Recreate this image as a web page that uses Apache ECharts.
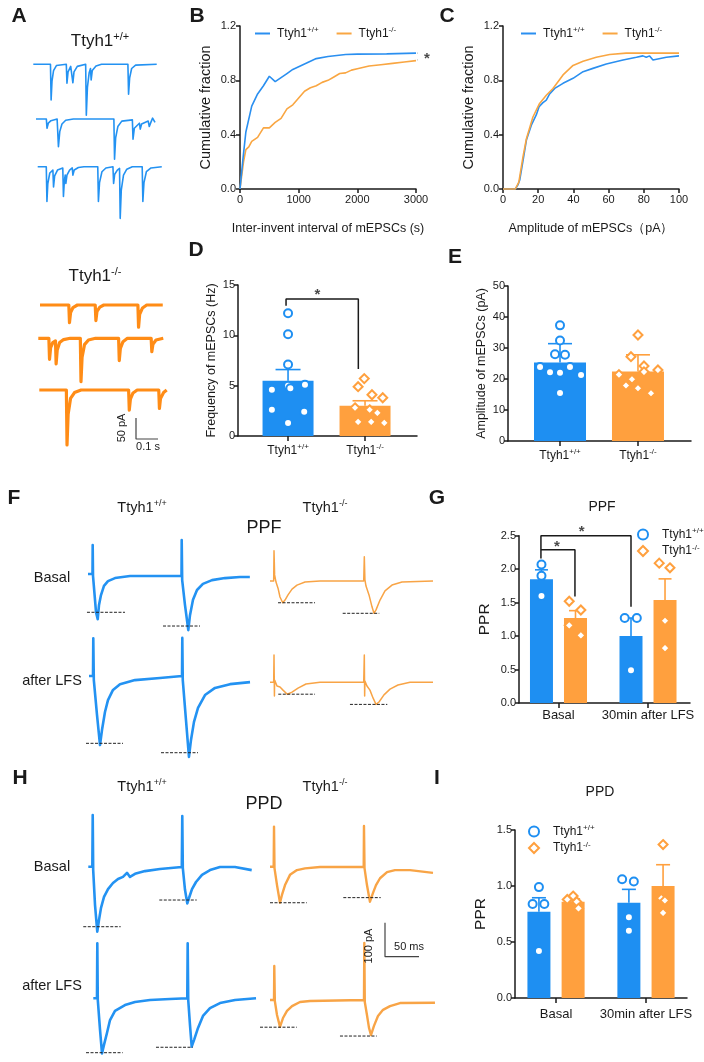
<!DOCTYPE html>
<html><head><meta charset="utf-8">
<style>html,body{margin:0;padding:0;background:#fff}#c{width:704px;height:1062px}</style>
<script src="https://cdn.jsdelivr.net/npm/echarts@6.0.0/dist/echarts.min.js"></script>
</head><body><div id="c"></div><script>
// ================= DATA =================
// Panel B: cumulative fraction of inter-event interval
const bXTicks = [0, 1000, 2000, 3000];
const bWT = [[0,0],[50,0.22],[100,0.42],[200,0.61],[300,0.70],[400,0.76],[500,0.83],[600,0.79],[700,0.82],[800,0.85],[900,0.88],[1000,0.90],[1100,0.92],[1200,0.94],[1300,0.96],[1500,0.975],[1800,0.99],[2000,0.993],[2500,0.995],[3000,1.0]];
const bKO = [[0,0],[60,0.2],[100,0.29],[150,0.31],[200,0.35],[300,0.38],[400,0.45],[500,0.45],[600,0.49],[700,0.52],[800,0.59],[900,0.62],[1000,0.67],[1100,0.72],[1200,0.745],[1300,0.76],[1400,0.785],[1500,0.80],[1600,0.825],[1700,0.85],[1800,0.855],[1900,0.875],[2000,0.885],[2200,0.905],[2400,0.915],[2600,0.925],[2800,0.935],[3000,0.945]];
// Panel C: cumulative fraction of amplitude
const cWT = [[0,0],[7,0],[8.5,0.03],[9.5,0.066],[11.4,0.21],[13.3,0.36],[16.1,0.47],[18.9,0.545],[20.5,0.606],[22.7,0.636],[24.6,0.655],[26.5,0.70],[29.4,0.741],[34.1,0.778],[39.8,0.815],[45.5,0.864],[51.1,0.888],[58.7,0.92],[68.2,0.95],[75.8,0.97],[79.5,0.98],[81.4,0.97],[83.3,0.98],[85.2,0.95],[92.8,0.97],[100,0.98]];
const cKO = [[0,0],[7,0],[9,0.05],[11.4,0.24],[13.3,0.37],[17,0.53],[20.8,0.63],[24.6,0.69],[28.4,0.74],[34.1,0.84],[39.8,0.91],[45.5,0.94],[53,0.97],[60.6,0.99],[70,1.0],[100,1.0]];
// Panel D: frequency (Hz)
const genotypes = ['+/+', '-/-'];
const dMean = [5.5, 3.0];
const dSem = [1.1, 0.5];
const dPtsWT = [12.2, 10.1, 7.1, 5.1, 5.0, 4.75, 4.6, 2.6, 2.4, 1.3];
const dJitWT = [0, 0, 0, 0.22, 0, 0.03, -0.21, -0.21, 0.21, 0];
const dPtsKO = [5.7, 4.9, 4.1, 3.8, 2.8, 2.6, 2.3, 1.4, 1.4, 1.3];
const dJitKO = [-0.01, -0.09, 0.09, 0.23, -0.13, 0.06, 0.16, -0.09, 0.08, 0.25];
// Panel E: amplitude (pA)
const eMean = [25.3, 22.4];
const eSem = [6.1, 5.4];
const ePtsWT = [37.3, 32.4, 28.0, 27.8, 23.9, 23.9, 22.2, 22.0, 21.3, 15.5];
const eJitWT = [0, 0, -0.064, 0.064, -0.256, 0.128, -0.128, 0, 0.27, 0];
const ePtsKO = [34.2, 27.2, 24.2, 22.9, 22.3, 21.4, 19.9, 17.9, 17.0, 15.4];
const eJitKO = [0, -0.09, 0.077, 0.256, 0.077, -0.244, -0.077, -0.154, 0, 0.167];
// Panel G: PPF paired-pulse ratio
const conditions = ['Basal', '30min after LFS'];
const gMeanWT = [1.85, 1.0];
const gSemWT = [0.14, 0.27];
const gMeanKO = [1.27, 1.54];
const gSemKO = [0.11, 0.315];
const gPtsWT = [[2.07, 1.9, 1.6], [1.27, 1.27, 0.49]];
const gJitWT = [[0, 0, 0], [-0.07, 0.065, 0]];
const gPtsKO = [[1.52, 1.39, 1.16, 1.01], [2.09, 2.02, 1.23, 0.82]];
const gJitKO = [[-0.07, 0.06, -0.07, 0.06], [-0.065, 0.055, 0, 0]];
// Panel I: PPD paired-pulse ratio
const iMeanWT = [0.77, 0.85];
const iSemWT = [0.125, 0.12];
const iMeanKO = [0.86, 1.0];
const iSemKO = [0.025, 0.19];
const iPtsWT = [[0.99, 0.84, 0.84, 0.42], [1.06, 1.04, 0.72, 0.60]];
const iJitWT = [[0, -0.07, 0.06, 0], [-0.075, 0.055, 0, 0]];
const iPtsKO = [[0.91, 0.88, 0.86, 0.80], [1.37, 0.89, 0.87, 0.76]];
const iJitKO = [[0, -0.065, 0.04, 0.06], [0, -0.02, 0.02, 0]];

// Panel A traces: [time ms, current pA relative to baseline]
const aWT1 = [[0,0],[78,0],[81,-85],[85,-40],[92,-15],[105,-3],[150,0],[153,-45],[158,-18],[170,-5],[177,-2],[180,-44],[185,-18],[200,-5],[238,0],[241,-121],[246,-55],[254,-20],[260,-10],[263,-37],[268,-15],[285,-4],[310,0],[430,0],[433,-71],[438,-32],[447,-10],[465,-2],[561,0]];
const aWT2 = [[0,0],[47,0],[50,-22],[56,-10],[68,-4],[96,0],[102,-66],[108,-30],[118,-12],[135,-3],[170,0],[354,0],[357,-96],[362,-45],[372,-18],[390,-5],[438,-2],[441,-48],[447,-22],[470,-10],[474,-24],[480,-12],[510,-5],[515,-18],[522,-8],[530,2],[541,-8]];
const aWT3 = [[0,0],[39,0],[42,-83],[46,-40],[55,-15],[69,-8],[72,-48],[77,-22],[90,-8],[114,-3],[117,-71],[121,-35],[125,-20],[128,-40],[133,-20],[145,-8],[157,-3],[160,-20],[166,-8],[185,-2],[210,0],[273,0],[276,-83],[281,-38],[292,-12],[310,-3],[342,0],[345,-40],[350,-18],[362,-8],[372,-4],[375,-123],[380,-55],[390,-20],[405,-6],[430,0],[475,0],[478,-83],[483,-38],[494,-12],[515,-3],[564,0]];
const aKO1 = [[0,0],[131,0],[134,-42],[139,-18],[150,-6],[170,0],[251,0],[254,-37],[259,-15],[272,-5],[290,0],[445,0],[448,-53],[453,-22],[466,-7],[485,0],[558,0]];
const aKO2 = [[0,0],[48,0],[51,-50],[56,-22],[66,-10],[78,-6],[81,-61],[86,-28],[97,-10],[115,-3],[145,0],[191,0],[194,-103],[199,-45],[210,-15],[228,-4],[260,0],[365,0],[368,-53],[373,-24],[385,-8],[405,0],[513,0],[516,-32],[521,-14],[535,-4],[568,0]];
const aKO3 = [[0,0],[123,0],[126,-131],[131,-58],[142,-20],[160,-6],[190,0],[406,0],[409,-48],[414,-22],[426,-7],[445,0],[543,0],[546,-44],[551,-20],[565,-6],[579,0]];
const aScale = [[0,50],[0,0],[100,0]];           // 50 pA, 0.1 s

// Panel F traces (PPF)
const fWTBasal = [[0,0],[6.6,0],[6.9,85],[7.4,-6],[11.8,-112],[14.3,-133],[16.2,-91],[19.1,-62],[23.5,-35],[29.4,-21],[39.7,-12],[61.8,-6],[91.2,-6],[120.6,-6],[137.5,-6],[137.8,100],[138.5,-18],[142.6,-91],[147.5,-165],[150,-121],[154.4,-76],[160.3,-47],[169,-29],[182.4,-18],[201.5,-12],[223.5,-9],[238,-9]];
const fWTLfs = [[0,0],[5.9,0],[6.3,111],[7.1,-12],[11.8,-115],[16.2,-203],[19.1,-159],[23.5,-106],[27.9,-71],[35.3,-41],[45.6,-24],[67.6,-12],[104.4,-6],[136.8,0],[137.2,112],[137.9,-12],[142.6,-129],[147,-238],[150,-188],[154.4,-135],[160.3,-94],[170.6,-56],[185.3,-35],[207.4,-24],[236.8,-18]];
const fKOBasal = [[0,0],[5.4,0],[5.9,89],[6.8,18],[8.8,-3],[11.8,-21],[14.7,-47],[18.7,-64],[22.1,-56],[26.5,-41],[32.4,-24],[39.7,-12],[51.5,-3],[73.5,0],[137.8,0],[138.7,71],[139.6,3],[141.2,-15],[145.6,-41],[150,-76],[152.9,-95],[155.9,-85],[161.8,-56],[169.1,-29],[179.4,-12],[194.1,-3],[239.7,0]];
const fKOLfs = [[0,0],[5.4,0],[5.9,80],[6.5,-40],[6.8,7],[10.3,-11],[14.7,-14],[19.1,-23],[25.4,-35],[32.4,-29],[41.2,-17],[52.9,-5],[73.5,0],[137.8,0],[138.7,80],[139.2,-40],[139.6,4],[142.6,-11],[147,-23],[151.5,-46],[155.9,-65],[160.3,-58],[167.6,-37],[176.5,-20],[188.2,-8],[205.9,0],[239.7,0]];
// peak reference levels [t0, t1, pA]
const fWTBasalPeaks = [[-1.5,54.4,-112.6],[110.3,164.7,-153]];
const fWTLfsPeaks = [[-4.4,50,-198],[105.9,160.3,-225.6]];
const fKOBasalPeaks = [[11.8,66.2,-64],[106.9,160.7,-95]];
const fKOLfsPeaks = [[12.2,66.2,-35],[117.6,172.5,-65]];

// Panel H traces (PPD)
const hWTBasal = [[0,0],[5.9,0],[6.5,152],[7.2,-10],[9.9,-113],[13.2,-191],[15.7,-157],[18.7,-121],[23.1,-89],[29,-66],[36.3,-48],[43.7,-36],[51,-30],[56.9,-18],[61.3,-30],[68.7,-21],[83.4,-13],[105.4,-7],[137.5,-1],[138.2,149],[139,-4],[142.2,-68],[145.6,-108],[148.1,-92],[152.5,-66],[158.4,-45],[167.2,-24],[179,-10],[193.7,-1],[215.7,-1],[240.3,-10]];
const hWTLfs = [[0,0],[5.4,0],[5.9,162],[6.6,-5],[9.9,-93],[12.8,-162],[15.7,-137],[20.1,-102],[24.6,-64],[31.9,-37],[46.6,-20],[61.3,-11],[83.4,-5],[112.8,-2],[138.2,0],[138.8,162],[139.6,-5],[142.2,-79],[144.7,-142],[148.1,-123],[154,-87],[161.3,-52],[171.6,-29],[186.3,-14],[208.4,-5],[239.3,0]];
const hKOBasal = [[0,0],[5.4,0],[5.9,118],[6.6,-4],[10.3,-54],[14.7,-106],[17.6,-83],[22.1,-54],[29.4,-24],[39.7,-10],[51.5,-5],[73.5,-1],[137.8,-1],[138.2,120],[139,-4],[142.6,-54],[147,-103],[151.5,-77],[155.9,-54],[161.8,-34],[172.1,-16],[183.8,-10],[205.9,-10],[239.7,-18]];
const hKOLfs = [[0,0],[5.9,0],[6.3,100],[7.1,-3],[10.3,-44],[14.7,-79],[19.1,-53],[25,-32],[32.4,-18],[44.1,-6],[58.8,-3],[138.2,0],[138.7,168],[139.4,-6],[142.6,-44],[145.6,-82],[148.5,-103],[152.9,-76],[158.8,-47],[166.2,-29],[176.5,-18],[191.2,-9],[242.6,-8]];
const hWTBasalPeaks = [[-7.4,47.6,-176.5],[104.4,159.4,-98]];
const hWTLfsPeaks = [[-10.7,43.2,-160],[92.2,146.2,-144]];
const hKOBasalPeaks = [[0,54,-106],[107.8,162.8,-91]];
const hKOLfsPeaks = [[-14.7,39.3,-80],[102.9,156.9,-106]];
const hScale = [[0,100],[0,0],[50,0]];           // 100 pA, 50 ms

// ================= STYLE / LAYOUT =================
const BLUE = '#1e8ff2', ORANGE = '#ffa03e';
const TR_BLUE = '#2392f2', TR_OR_A = '#ff8c16', TR_OR = '#f8a446';
const LN_BLUE = '#2a8ff0', LN_OR = '#f9a642';
const INK = '#1a1a1a';
const FONT = '"Liberation Sans", Arial, Helvetica, sans-serif';
const PAL = [BLUE, ORANGE];
const DIAMOND = 'path://M0,-10L10,0L0,10L-10,0Z';
const SUP = { a: { fontSize: 12, fontFamily: FONT, color: INK, lineHeight: 15 }, s: { fontSize: 8, fontFamily: FONT, color: INK, verticalAlign: 'top', lineHeight: 9 } };
const supText = g => '{a|Ttyh1}{s|' + g + '}';

const grids = [], xAxes = [], yAxes = [], series = [];
function addGrid(rect, xa, ya) {
  grids.push(Object.assign({ outerBoundsMode: 'none', containLabel: false }, rect));
  const gi = grids.length - 1;
  xAxes.push(Object.assign({ gridIndex: gi }, xa));
  yAxes.push(Object.assign({ gridIndex: gi }, ya));
  return gi;
}
function axisLine() { return { show: true, onZero: false, lineStyle: { color: INK, width: 1.5 } }; }
function axisTick(len) { return { show: true, length: len, lineStyle: { color: INK, width: 1.5 } }; }

// ----- trace grids -----
const SA = { px: 0.22, py: 0.42, xmin: -10, xmax: 600, ymin: -160, ymax: 60 };
const SF = { px: 0.68, py: 0.34, xmin: -25, xmax: 265, ymin: -300, ymax: 220 };
function traceGrid(x0, y0, S) {
  return addGrid({ left: x0 + S.xmin * S.px, top: y0 - S.ymax * S.py, width: (S.xmax - S.xmin) * S.px, height: (S.ymax - S.ymin) * S.py },
    { type: 'value', min: S.xmin, max: S.xmax, show: false },
    { type: 'value', min: S.ymin, max: S.ymax, show: false });
}
function traceSeries(gi, data, color, width) {
  series.push({ type: 'line', xAxisIndex: gi, yAxisIndex: gi, data, symbol: 'none', showSymbol: false, clip: false, silent: true,
    lineStyle: { color, width, join: 'round' }, z: 2 });
}
function peakSeries(gi, peaks) {
  peaks.forEach(p => series.push({ type: 'line', xAxisIndex: gi, yAxisIndex: gi, data: [[p[0], p[2]], [p[1], p[2]]], symbol: 'none', clip: false, silent: true,
    lineStyle: { color: '#222', width: 1, type: [3, 1.5] }, z: 3 }));
}
const traceLayout = [
  [aWT1, 33.3, 64.3, SA, TR_BLUE, 1.6], [aWT2, 36, 119, SA, TR_BLUE, 1.6], [aWT3, 37.7, 166.7, SA, TR_BLUE, 1.6],
  [aKO1, 40, 305, SA, TR_OR_A, 3.2], [aKO2, 38.3, 338.3, SA, TR_OR_A, 3.2], [aKO3, 39.3, 390, SA, TR_OR_A, 3.2],
  [fWTBasal, 88, 574, SF, TR_BLUE, 2.6, fWTBasalPeaks], [fWTLfs, 89, 676, SF, TR_BLUE, 2.6, fWTLfsPeaks],
  [fKOBasal, 270, 581, SF, TR_OR, 1.5, fKOBasalPeaks], [fKOLfs, 270, 682.3, SF, TR_OR, 1.5, fKOLfsPeaks],
  [hWTBasal, 88.3, 866.7, SF, TR_BLUE, 2.6, hWTBasalPeaks], [hWTLfs, 93.3, 998.3, SF, TR_BLUE, 2.6, hWTLfsPeaks],
  [hKOBasal, 270, 866.7, SF, TR_OR, 2.4, hKOBasalPeaks], [hKOLfs, 270, 1000, SF, TR_OR, 2.4, hKOLfsPeaks]
];
traceLayout.forEach(t => {
  const gi = traceGrid(t[1], t[2], t[3]);
  traceSeries(gi, t[0], t[4], t[5]);
  if (t[6]) peakSeries(gi, t[6]);
});
// scale bars
[[aScale, 136, 439, SA], [hScale, 385, 956.7, SF]].forEach(s => {
  const gi = traceGrid(s[1], s[2], s[3]);
  series.push({ type: 'line', xAxisIndex: gi, yAxisIndex: gi, data: s[0], symbol: 'none', clip: false, silent: true, lineStyle: { color: '#444', width: 1.2 } });
});

// ----- B & C cumulative plots -----
function cumGrid(rect, xmin, xmax, xint, name) {
  return addGrid(rect,
    { type: 'value', min: xmin, max: xmax, interval: xint, axisLine: axisLine(), axisTick: axisTick(4), splitLine: { show: false },
      axisLabel: { fontSize: 11, color: INK, fontFamily: FONT, margin: 5, formatter: v => String(v) },
      name, nameLocation: 'middle', nameGap: 33, nameTextStyle: { fontSize: 12.5, color: INK, fontFamily: FONT } },
    { type: 'value', min: 0, max: 1.2, interval: 0.4, axisLine: axisLine(), axisTick: axisTick(4), splitLine: { show: false },
      axisLabel: { fontSize: 11, color: INK, fontFamily: FONT, margin: 4, formatter: v => v.toFixed(1) },
      name: 'Cumulative fraction', nameLocation: 'middle', nameGap: 27, nameRotate: 90, nameTextStyle: { fontSize: 14.5, color: INK, fontFamily: FONT } });
}
const gB = cumGrid({ left: 240, top: 26, width: 176, height: 163 }, 0, 3000, 1000, 'Inter-invent interval of mEPSCs (s)');
const gC = cumGrid({ left: 503, top: 26, width: 176, height: 163 }, 0, 100, 20, 'Amplitude of mEPSCs\uFF08pA\uFF09');
function cumLine(gi, name, data, color) {
  series.push({ type: 'line', name, xAxisIndex: gi, yAxisIndex: gi, data, symbol: 'none', showSymbol: false, clip: false, lineStyle: { color, width: 1.6 }, itemStyle: { color }, z: 3 });
}
cumLine(gB, 'bKO', bKO, LN_OR); cumLine(gB, 'bWT', bWT, LN_BLUE);
cumLine(gC, 'cWT', cWT, LN_BLUE); cumLine(gC, 'cKO', cKO, LN_OR);
// significance bracket in B
series.push({ type: 'line', xAxisIndex: gB, yAxisIndex: gB, data: [[3030, 1.0], [3080, 1.0], [3080, 0.95], [3030, 0.95]], symbol: 'none', clip: false, silent: true, lineStyle: { color: INK, width: 1.2 } });
function star(gi, x, y, size) {
  series.push({ type: 'scatter', xAxisIndex: gi, yAxisIndex: gi, data: [[x, y]], symbolSize: 12, clip: false, silent: true, z: 6,
    itemStyle: { color: 'rgba(0,0,0,0)' }, label: { show: true, position: 'inside', formatter: '*', fontSize: size, fontWeight: 'bold', color: INK, fontFamily: FONT } });
}
star(gB, 3185, 0.96, 15);

// ----- bar charts -----
function barGrid(rect, xmin, xmax, ymin, ymax, yint, ticks, labelFn, yname, ynameGap, ynameSize, lblMargin, yfmt, lblSize) {
  return addGrid(rect,
    { type: 'value', min: xmin, max: xmax, axisLine: axisLine(), splitLine: { show: false },
      axisTick: Object.assign(axisTick(5), { customValues: ticks }),
      axisLabel: { customValues: ticks, formatter: labelFn, fontSize: lblSize || 12, color: INK, fontFamily: FONT, margin: lblMargin, rich: SUP } },
    { type: 'value', min: ymin, max: ymax, interval: yint, axisLine: axisLine(), axisTick: axisTick(4), splitLine: { show: false },
      axisLabel: { fontSize: 11, color: INK, fontFamily: FONT, margin: 3, formatter: yfmt },
      name: yname, nameLocation: 'middle', nameRotate: 90, nameGap: ynameGap, nameTextStyle: { fontSize: ynameSize, color: INK, fontFamily: FONT } });
}
function bars(gi, items, width) { // items [x, value, colorIdx]
  series.push({ type: 'bar', xAxisIndex: gi, yAxisIndex: gi, barWidth: width, silent: true, z: 2,
    data: items.map(it => ({ value: [it[0], it[1]], itemStyle: { color: PAL[it[2]] } })) });
}
function errs(gi, items, capHalf) { // items [x, mean, sem, colorIdx]
  series.push({ type: 'custom', xAxisIndex: gi, yAxisIndex: gi, z: 3, silent: true, clip: false, encode: { x: 0, y: 1 }, data: items,
    renderItem: (p, api) => {
      const x = api.value(0), m = api.value(1), s = api.value(2), col = PAL[api.value(3)];
      const a = api.coord([x, m]), b = api.coord([x, m + s]);
      const st = { stroke: col, lineWidth: 1.6 };
      return { type: 'group', children: [
        { type: 'line', shape: { x1: a[0], y1: a[1], x2: b[0], y2: b[1] }, style: st },
        { type: 'line', shape: { x1: b[0] - capHalf, y1: b[1], x2: b[0] + capHalf, y2: b[1] }, style: st }] };
    } });
}
function pts(gi, x, vals, jit, colorIdx, symbol, size, name) {
  series.push({ type: 'scatter', name, xAxisIndex: gi, yAxisIndex: gi, z: 4, symbol, symbolSize: size, clip: false, silent: true,
    itemStyle: { color: '#fff', borderColor: PAL[colorIdx], borderWidth: 2, opacity: 1 },
    data: vals.map((v, i) => [x + jit[i], v]) });
}
function bracket(gi, path) {
  series.push({ type: 'line', xAxisIndex: gi, yAxisIndex: gi, data: path, symbol: 'none', clip: false, silent: true, z: 5, lineStyle: { color: INK, width: 1.5 } });
}
const genoLabel = v => supText(genotypes[Math.round(v) - 1]);
const condLabel = v => conditions[Math.round(v) - 1];

// D
const gD = barGrid({ left: 238, top: 285, width: 179, height: 151 }, 0.35, 2.675, 0, 15, 5, [1, 2], genoLabel, 'Frequency of mEPSCs (Hz)', 20, 12.5, 7);
bars(gD, [[1, dMean[0], 0], [2, dMean[1], 1]], 51);
errs(gD, [[1, dMean[0], dSem[0], 0], [2, dMean[1], dSem[1], 1]], 12.5);
pts(gD, 1, dPtsWT, dJitWT, 0, 'circle', 8);
pts(gD, 2, dPtsKO, dJitKO, 1, DIAMOND, 9);
bracket(gD, [[0.974, 12.94], [0.974, 13.6], [1.913, 13.6], [1.913, 6.65]]);
star(gD, 1.38, 14.0, 15);

// E
const gE = barGrid({ left: 508, top: 286, width: 183, height: 155 }, 0.333, 2.68, 0, 50, 10, [1, 2], genoLabel, 'Amplitude of mEPSCs (pA)', 20, 12.5, 7);
bars(gE, [[1, eMean[0], 0], [2, eMean[1], 1]], 52);
errs(gE, [[1, eMean[0], eSem[0], 0], [2, eMean[1], eSem[1], 1]], 12);
pts(gE, 1, ePtsWT, eJitWT, 0, 'circle', 8);
pts(gE, 2, ePtsKO, eJitKO, 1, DIAMOND, 9);

// G
const OFF = 0.19;
const gG = barGrid({ left: 519, top: 535.7, width: 171, height: 167.3 }, 0.559, 2.469, 0, 2.5, 0.5, [1, 2], condLabel, 'PPR', 26, 15.5, 6, v => v.toFixed(1), 13);
bars(gG, [[1 - OFF, gMeanWT[0], 0], [1 + OFF, gMeanKO[0], 1], [2 - OFF, gMeanWT[1], 0], [2 + OFF, gMeanKO[1], 1]], 23);
errs(gG, [[1 - OFF, gMeanWT[0], gSemWT[0], 0], [1 + OFF, gMeanKO[0], gSemKO[0], 1], [2 - OFF, gMeanWT[1], gSemWT[1], 0], [2 + OFF, gMeanKO[1], gSemKO[1], 1]], 6.5);
[0, 1].forEach(k => {
  pts(gG, k + 1 - OFF, gPtsWT[k], gJitWT[k], 0, 'circle', 8, k === 0 ? 'gWT' : undefined);
  pts(gG, k + 1 + OFF, gPtsKO[k], gJitKO[k], 1, DIAMOND, 9, k === 0 ? 'gKO' : undefined);
});
bracket(gG, [[0.804, 2.16], [0.804, 2.5], [1.81, 2.5], [1.81, 1.44]]);
bracket(gG, [[0.804, 2.29], [1.184, 2.29], [1.184, 1.59]]);
star(gG, 1.26, 2.55, 15);
star(gG, 0.983, 2.34, 15);

// I
const gI = barGrid({ left: 515, top: 830, width: 172, height: 168 }, 0.544, 2.456, 0, 1.5, 0.5, [1, 2], condLabel, 'PPR', 26, 15.5, 10, v => v.toFixed(1), 13);
bars(gI, [[1 - OFF, iMeanWT[0], 0], [1 + OFF, iMeanKO[0], 1], [2 - OFF, iMeanWT[1], 0], [2 + OFF, iMeanKO[1], 1]], 23);
errs(gI, [[1 - OFF, iMeanWT[0], iSemWT[0], 0], [1 + OFF, iMeanKO[0], iSemKO[0], 1], [2 - OFF, iMeanWT[1], iSemWT[1], 0], [2 + OFF, iMeanKO[1], iSemKO[1], 1]], 7);
[0, 1].forEach(k => {
  pts(gI, k + 1 - OFF, iPtsWT[k], iJitWT[k], 0, 'circle', 8, k === 0 ? 'iWT' : undefined);
  pts(gI, k + 1 + OFF, iPtsKO[k], iJitKO[k], 1, DIAMOND, 9, k === 0 ? 'iKO' : undefined);
});

// ----- legends -----
const LEG = { bWT: '+/+', bKO: '-/-', cWT: '+/+', cKO: '-/-', gWT: '+/+', gKO: '-/-', iWT: '+/+', iKO: '-/-' };
const legText = { fontSize: 12, color: INK, fontFamily: FONT, rich: SUP };
function lineLeg(left, names, colors, gap) {
  return { left, top: 26, padding: 0, orient: 'horizontal', itemWidth: 15, itemHeight: 2, itemGap: gap, selectedMode: false,
    data: names.map((n, i) => ({ name: n, icon: 'rect', itemStyle: { color: colors[i] } })), formatter: n => supText(LEG[n]),
    textStyle: Object.assign({}, legText, { padding: [0, 0, 0, 2] }) };
}
function symLeg(left, top, names) {
  return { left, top, padding: 0, orient: 'vertical', itemWidth: 10, itemHeight: 10, itemGap: 3, selectedMode: false,
    data: [{ name: names[0], icon: 'circle', itemStyle: { color: '#fff', borderColor: BLUE, borderWidth: 2 } },
           { name: names[1], icon: DIAMOND, itemStyle: { color: '#fff', borderColor: ORANGE, borderWidth: 2 } }],
    formatter: n => supText(LEG[n]), textStyle: Object.assign({}, legText, { fontSize: 11, padding: [0, 0, 0, 9] }) };
}
const legends = [lineLeg(255, ['bWT', 'bKO'], [LN_BLUE, LN_OR], 18), lineLeg(521, ['cWT', 'cKO'], [LN_BLUE, LN_OR], 18),
  symLeg(637, 527, ['gWT', 'gKO']), symLeg(528, 824, ['iWT', 'iKO'])];

// ----- texts -----
function txt(x, y, text, size, opts) {
  opts = opts || {};
  return { type: 'text', x, y, rotation: opts.rot || 0, silent: true, z: 10,
    style: { text, x: 0, y: 0, align: 'center', verticalAlign: 'middle', fontSize: size, fontFamily: FONT, fontWeight: opts.bold ? 'bold' : 'normal', fill: INK,
      rich: opts.rich } };
}
function richSup(size) {
  return { a: { fontSize: size, fontFamily: FONT, fill: INK, color: INK, lineHeight: size + 3 }, s: { fontSize: Math.round(size * 0.62), fontFamily: FONT, fill: INK, color: INK, verticalAlign: 'top', lineHeight: Math.round(size * 0.62) + 1 } };
}
const graphics = [
  txt(19, 16, 'A', 21, { bold: true }), txt(197, 16, 'B', 21, { bold: true }), txt(447, 16, 'C', 21, { bold: true }),
  txt(196, 250, 'D', 21, { bold: true }), txt(455, 257, 'E', 21, { bold: true }),
  txt(14, 498, 'F', 21, { bold: true }), txt(437, 498, 'G', 21, { bold: true }),
  txt(20, 778, 'H', 21, { bold: true }), txt(437, 778, 'I', 21, { bold: true }),
  txt(100, 41, supText('+/+'), 17, { rich: richSup(17) }), txt(95, 276, supText('-/-'), 17, { rich: richSup(17) }),
  txt(122, 428, '50 pA', 11, { rot: Math.PI / 2 }), txt(148, 447, '0.1 s', 11),
  txt(142, 508, supText('+/+'), 14.5, { rich: richSup(14.5) }), txt(325, 508, supText('-/-'), 14.5, { rich: richSup(14.5) }),
  txt(264, 528, 'PPF', 18), txt(52, 578, 'Basal', 14.5), txt(52, 681, 'after LFS', 14.5),
  txt(602, 507, 'PPF', 14),
  txt(142, 787, supText('+/+'), 14.5, { rich: richSup(14.5) }), txt(325, 787, supText('-/-'), 14.5, { rich: richSup(14.5) }),
  txt(264, 804, 'PPD', 18), txt(52, 867, 'Basal', 14.5), txt(52, 986, 'after LFS', 14.5),
  txt(369, 946, '100 pA', 11, { rot: Math.PI / 2 }), txt(409, 947, '50 ms', 11),
  txt(600, 792, 'PPD', 14)
];

const chart = echarts.init(document.getElementById('c'), null, { renderer: 'canvas' });
chart.setOption({
  animation: false,
  backgroundColor: '#fff',
  textStyle: { fontFamily: FONT },
  grid: grids, xAxis: xAxes, yAxis: yAxes, series, legend: legends, graphic: graphics
});
</script></body></html>
